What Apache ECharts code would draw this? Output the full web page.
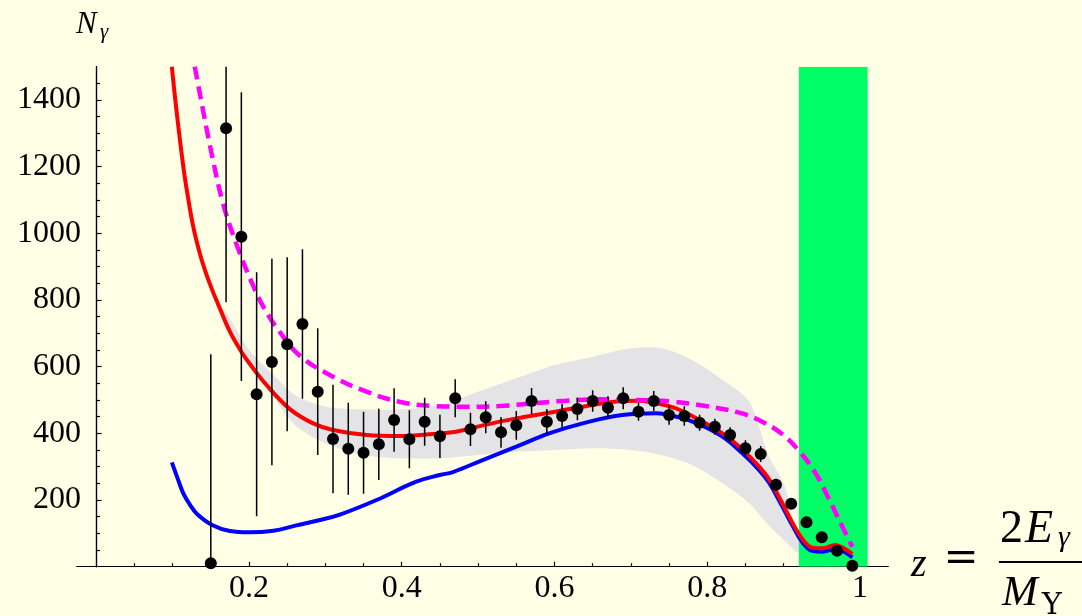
<!DOCTYPE html>
<html>
<head>
<meta charset="utf-8">
<script src="https://cdn.jsdelivr.net/npm/echarts@6/dist/echarts.min.js"></script>
<style>
  html, body { margin: 0; padding: 0; background: #FFFFE6; }
  #chart { width: 1082px; height: 616px; }
</style>
</head>
<body>
<div id="chart"></div>
<script>
// Photon spectrum N_gamma versus z = 2E_gamma / M_Upsilon

// measured points
const zPoints = [0.15, 0.17, 0.19, 0.21, 0.23, 0.25, 0.27, 0.29, 0.31, 0.33, 0.35, 0.37, 0.39, 0.41, 0.43,
  0.45, 0.47, 0.49, 0.51, 0.53, 0.55, 0.57, 0.59, 0.61, 0.63, 0.65, 0.67, 0.69, 0.71, 0.73,
  0.75, 0.77, 0.79, 0.81, 0.83, 0.85, 0.87, 0.89, 0.91, 0.93, 0.95, 0.97, 0.99];
const nGamma = [10, 1315, 990, 517, 614, 667, 728, 525, 383, 354, 342, 367, 440, 382, 435,
  391, 505, 412, 448, 403, 424, 497, 435, 452, 473, 497, 477, 505, 465, 497,
  455, 452, 432, 420, 395, 355, 338, 246, 189, 133, 88, 48, 3];
const nGammaErr = [627, 522, 433, 366, 310, 261, 224, 190, 163, 138, 123, 107, 95, 87, 72,
  65, 57, 50, 48, 46, 43, 39, 38, 37, 34, 32, 34, 33, 27, 30,
  29, 29, 24, 24, 23, 24, 24, 18, 16, 14, 12, 10, 8];

// theory curves [z, N]
const redCurve = [[0.099, 1500], [0.105, 1370], [0.114, 1200], [0.12, 1110], [0.127, 1020], [0.135, 945],
  [0.143, 885], [0.151, 835], [0.16, 785], [0.175, 705], [0.19, 645], [0.2, 612], [0.223, 545],
  [0.254, 472], [0.284, 430], [0.31, 410], [0.354, 395], [0.397, 392], [0.441, 398], [0.471, 405],
  [0.506, 424], [0.55, 445], [0.593, 462], [0.637, 480], [0.689, 497], [0.71, 498], [0.729, 492],
  [0.759, 475], [0.79, 440], [0.82, 400], [0.846, 352], [0.868, 300], [0.881, 262], [0.898, 192],
  [0.912, 130], [0.925, 82], [0.938, 57], [0.951, 55], [0.968, 65], [0.979, 55], [0.99, 38]];
const blueCurve = [[0.099, 313], [0.107, 262], [0.114, 220], [0.123, 185], [0.132, 158], [0.151, 126],
  [0.175, 107], [0.2, 103], [0.232, 108], [0.262, 124], [0.293, 140], [0.32, 157], [0.367, 200],
  [0.419, 255], [0.45, 275], [0.467, 284], [0.506, 320], [0.55, 360], [0.593, 400], [0.637, 430],
  [0.689, 455], [0.733, 460], [0.763, 448], [0.79, 427], [0.82, 390], [0.846, 340], [0.868, 290],
  [0.881, 252], [0.898, 182], [0.912, 122], [0.925, 72], [0.938, 47], [0.951, 45], [0.968, 53],
  [0.979, 45], [0.99, 28]];
const magentaCurve = [[0.129, 1500], [0.136, 1415], [0.151, 1240], [0.166, 1090], [0.184, 965],
  [0.206, 840], [0.22, 775], [0.24, 705], [0.267, 632], [0.31, 570], [0.354, 525], [0.397, 495],
  [0.441, 482], [0.485, 480], [0.528, 482], [0.572, 490], [0.615, 498], [0.659, 502], [0.711, 500],
  [0.755, 495], [0.798, 482], [0.842, 462], [0.872, 435], [0.898, 398], [0.92, 348], [0.942, 280],
  [0.959, 205], [0.977, 120], [0.99, 60]];

// uncertainty band around the red curve
const bandZ    = [0.165, 0.18, 0.20, 0.23, 0.26, 0.30, 0.35, 0.40, 0.45, 0.50, 0.55, 0.60, 0.65, 0.70, 0.74, 0.78, 0.82, 0.855, 0.88, 0.90, 0.92, 0.95, 0.99];
const bandLow  = [745, 675, 600, 515, 425, 370, 335, 325, 325, 335, 345, 350, 355, 350, 335, 305, 250, 190, 125, 80, 40, 20, 10];
const bandHigh = [775, 725, 650, 580, 515, 480, 472, 472, 485, 525, 565, 605, 630, 655, 655, 620, 560, 495, 335, 250, 100, 60, 40];

// excluded region near the endpoint
const greenRange = [0.92, 1.01];
const yRange = [0, 1500];

// axis ticks
const xMajorTicks = [0.2, 0.4, 0.6, 0.8, 1];
const xMinorTicks = [0.05, 0.1, 0.15, 0.25, 0.3, 0.35, 0.45, 0.5, 0.55, 0.65, 0.7, 0.75, 0.85, 0.9, 0.95];
const yMajorTicks = [200, 400, 600, 800, 1000, 1200, 1400];
const yMinorTicks = [50, 100, 150, 250, 300, 350, 450, 500, 550, 650, 700, 750, 850, 900, 950,
  1050, 1100, 1150, 1250, 1300, 1350, 1450];

const SERIF = "'Liberation Serif', 'Times New Roman', serif";
const X_MIN = -0.0252, X_MAX = 1.0367;

const chart = echarts.init(document.getElementById('chart'), null, { renderer: 'canvas' });

const axisLineStyle = { color: '#000', width: 1.2 };

function xAxisDef(ticks, len, labels) {
  return {
    type: 'value', min: X_MIN, max: X_MAX, position: 'bottom',
    axisLine: { show: true, onZero: false, lineStyle: axisLineStyle },
    axisTick: { show: true, inside: true, length: len, customValues: ticks, lineStyle: { color: '#000', width: 1.2 } },
    axisLabel: labels ? {
      show: true, customValues: ticks, color: '#000', fontFamily: SERIF, fontSize: 32, margin: 6,
      formatter: v => String(v)
    } : { show: false },
    splitLine: { show: false }
  };
}
function yAxisDef(ticks, len, labels) {
  return {
    type: 'value', min: yRange[0], max: yRange[1], position: 'left',
    axisLine: { show: true, onZero: true, onZeroAxisIndex: 0, lineStyle: axisLineStyle },
    axisTick: { show: true, inside: true, length: len, customValues: ticks, lineStyle: { color: '#000', width: 1.2 } },
    axisLabel: labels ? {
      show: true, customValues: ticks, color: '#000', fontFamily: SERIF, fontSize: 32, margin: -4,
      formatter: v => String(v)
    } : { show: false },
    splitLine: { show: false }
  };
}

function label(x, y, text, size, italic, family, align) {
  return {
    type: 'text', z: 10,
    style: {
      x: x, y: y, text: text, fill: '#000',
      fontSize: size, fontStyle: italic ? 'italic' : 'normal', fontFamily: family || SERIF,
      align: align || 'left', verticalAlign: 'middle'
    }
  };
}

const option = {
  animation: false,
  backgroundColor: '#FFFFE6',
  grid: { left: 77, right: 194, top: 66.7, bottom: 49.3, containLabel: false, outerBoundsMode: 'none' },
  xAxis: [xAxisDef(xMajorTicks, 5, true), xAxisDef(xMinorTicks, 3.5, false)],
  yAxis: [yAxisDef(yMajorTicks, 5.3, true), yAxisDef(yMinorTicks, 3.7, false)],
  series: [
    {
      name: 'band', type: 'custom', z: 1, clip: true, silent: true,
      data: bandZ.map((z, i) => [z, bandLow[i], bandHigh[i]]),
      renderItem: function (params, api) {
        if (params.dataIndex !== 0) return null;
        const pts = [];
        for (let i = 0; i < bandZ.length; i++) pts.push(api.coord([bandZ[i], bandHigh[i]]));
        for (let i = bandZ.length - 1; i >= 0; i--) pts.push(api.coord([bandZ[i], bandLow[i]]));
        return { type: 'polygon', shape: { points: pts, smooth: 0.3 }, style: { fill: '#E4E4E6', stroke: null } };
      }
    },
    {
      name: 'cut', type: 'custom', z: 2, clip: true, silent: true,
      data: [greenRange],
      renderItem: function (params, api) {
        const p0 = api.coord([greenRange[0], yRange[1]]);
        const p1 = api.coord([greenRange[1], yRange[0]]);
        return { type: 'rect', shape: { x: p0[0], y: p0[1], width: p1[0] - p0[0], height: p1[1] - p0[1] }, style: { fill: '#00FF66' } };
      }
    },
    {
      name: 'blue', type: 'line', z: 3, data: blueCurve, smooth: 0.4, showSymbol: false, clip: true,
      lineStyle: { color: '#0000FF', width: 4 }
    },
    {
      name: 'red', type: 'line', z: 4, data: redCurve, smooth: 0.4, showSymbol: false, clip: true,
      lineStyle: { color: '#FF0000', width: 4 }
    },
    {
      name: 'magenta', type: 'line', z: 5, data: magentaCurve, smooth: 0.4, showSymbol: false, clip: true,
      lineStyle: { color: '#FF00FF', width: 4.5, type: [13, 7], cap: 'butt' }
    },
    {
      name: 'errors', type: 'custom', z: 6, clip: true, silent: true,
      data: zPoints.map((z, i) => [z, nGamma[i], nGammaErr[i]]),
      renderItem: function (params, api) {
        const z = api.value(0), v = api.value(1), e = api.value(2);
        const top = api.coord([z, v + e]);
        const bot = api.coord([z, v - e]);
        return { type: 'line', shape: { x1: top[0], y1: top[1], x2: bot[0], y2: bot[1] }, style: { stroke: '#000', lineWidth: 1.5 } };
      }
    },
    {
      name: 'data', type: 'scatter', z: 7, symbol: 'circle', symbolSize: 12, clip: false,
      data: zPoints.map((z, i) => [z, nGamma[i]]),
      itemStyle: { color: '#000', opacity: 1 }
    }
  ],
  graphic: [
    label(76, 25, 'N', 31, true),
    label(100, 32, 'γ', 21, true),
    label(911, 565, 'z', 40, true),
    label(961, 560, '=', 42, false, "'DejaVu Serif', serif", 'center'),
    label(1000, 530, '2', 46, false),
    label(1025, 530, 'E', 46, true),
    label(1058, 538, 'γ', 30, true),
    { type: 'line', z: 10, shape: { x1: 999, y1: 562, x2: 1082, y2: 562 }, style: { stroke: '#000', lineWidth: 2 } },
    label(1002, 594, 'M', 43, true),
    label(1042, 606, 'Υ', 30, false, "'DejaVu Serif', serif")
  ]
};

chart.setOption(option);
</script>
</body>
</html>
